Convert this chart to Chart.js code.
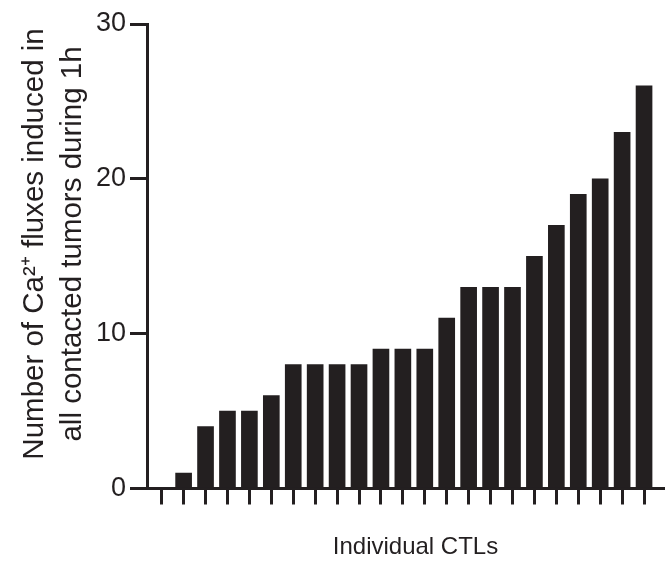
<!DOCTYPE html>
<html>
<head>
<meta charset="utf-8">
<script src="https://cdn.jsdelivr.net/npm/chart.js@4.4.1/dist/chart.umd.min.js"></script>
<style>
  html, body { margin: 0; padding: 0; background: #fff; }
  #wrap { width: 665px; height: 565px; }
</style>
</head>
<body>
<div id="wrap"><canvas id="chart" width="665" height="565"></canvas></div>
<script>
// one bar per CTL, sorted by number of Ca2+ fluxes
var ctlIndex = [1, 2, 3, 4, 5, 6, 7, 8, 9, 10, 11, 12, 13, 14, 15, 16, 17, 18, 19, 20, 21, 22, 23];
var fluxCounts = [0, 1, 4, 5, 5, 6, 8, 8, 8, 8, 9, 9, 9, 11, 13, 13, 13, 15, 17, 19, 20, 23, 26];
var yTicks = [0, 10, 20, 30];

var ink = '#231f20';
var fontFamily = '"Liberation Sans", Arial, sans-serif';

function getPoints() {
    return ctlIndex.map((c, i) => ({ x: c, y: fluxCounts[i] }));
}

var ctx = document.getElementById("chart").getContext('2d');

var chart = new Chart(ctx, {
    type: 'bar',
    data: {
        datasets: [{
            label: 'Ca2+ fluxes',
            data: getPoints(),
            backgroundColor: ink,
            borderWidth: 0,
            barThickness: 16
        }]
    },
    options: {
        responsive: false,
        animation: false,
        layout: { padding: { top: 24, right: 1, left: 0, bottom: 0 } },
        plugins: {
            legend: { display: false },
            tooltip: { enabled: false }
        },
        scales: {
            x: {
                type: 'linear',
                offset: false,
                min: 0.33,
                max: 23.91,
                afterBuildTicks: function (scale) {
                    scale.ticks = ctlIndex.map(v => ({ value: v }));
                },
                afterFit: function (scale) { scale.height = 76.5; },
                ticks: { display: false },
                grid: {
                    offset: false,
                    drawOnChartArea: false,
                    drawTicks: true,
                    tickLength: 16,
                    lineWidth: 3,
                    color: ink
                },
                border: { display: true, color: ink, width: 3 },
                title: {
                    display: true,
                    // leading spaces nudge the centred title right like the original
                    text: '   Individual CTLs',
                    color: ink,
                    font: { family: fontFamily, size: 24 },
                    padding: { top: 0, bottom: 3 }
                }
            },
            y: {
                min: 0,
                max: 30,
                afterBuildTicks: function (scale) {
                    scale.ticks = yTicks.map(v => ({ value: v }));
                },
                afterFit: function (scale) { scale.width = 147; },
                ticks: {
                    color: ink,
                    padding: 4,
                    font: { family: fontFamily, size: 27 }
                },
                grid: {
                    drawOnChartArea: false,
                    drawTicks: true,
                    tickLength: 17,
                    lineWidth: 3,
                    color: ink
                },
                border: { display: true, color: ink, width: 3 },
                title: {
                    display: true,
                    text: ['   Number of Ca\u00b2\u207a fluxes induced in', '   all contacted tumors during 1h'],
                    color: ink,
                    font: { family: fontFamily, size: 29.5, lineHeight: 1.29 },
                    padding: { top: 16, bottom: 0 }
                }
            }
        }
    }
});
</script>
</body>
</html>
